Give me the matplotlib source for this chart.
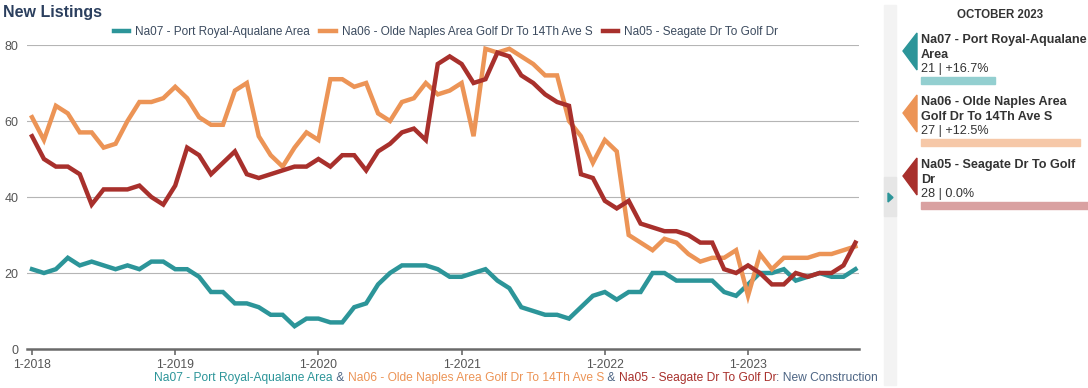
"""New Listings chart: three Naples sub-areas, monthly, with an October 2023 side panel."""

import matplotlib
matplotlib.use("Agg")
import matplotlib.pyplot as plt
from matplotlib.lines import Line2D
from matplotlib.patches import Polygon, Rectangle
import numpy as np

plt.rcParams["font.family"] = ["Liberation Sans", "DejaVu Sans"]

# monthly values, Jan 2018 .. Oct 2023
na07 = [21, 20, 21, 24, 22, 23, 22, 21, 22, 21, 23, 23,
        21, 21, 19, 15, 15, 12, 12, 11, 9, 9, 6, 8,
        8, 7, 7, 11, 12, 17, 20, 22, 22, 22, 21, 19,
        19, 20, 21, 18, 16, 11, 10, 9, 9, 8, 11, 14,
        15, 13, 15, 15, 20, 20, 18, 18, 18, 18, 15, 14,
        17, 20, 20, 21, 18, 19, 20, 19, 19, 21]
na06 = [61, 55, 64, 62, 57, 57, 53, 54, 60, 65, 65, 66,
        69, 66, 61, 59, 59, 68, 70, 56, 51, 48, 53, 57,
        55, 71, 71, 69, 70, 62, 60, 65, 66, 70, 67, 68,
        70, 56, 79, 78, 79, 77, 75, 72, 72, 60, 56, 49,
        55, 52, 30, 28, 26, 29, 28, 25, 23, 24, 24, 26,
        14, 25, 21, 24, 24, 24, 25, 25, 26, 27]
na05 = [56, 50, 48, 48, 46, 38, 42, 42, 42, 43, 40, 38,
        43, 53, 51, 46, 49, 52, 46, 45, 46, 47, 48, 48,
        50, 48, 51, 51, 47, 52, 54, 57, 58, 55, 75, 77,
        75, 70, 71, 78, 77, 72, 70, 67, 65, 64, 46, 45,
        39, 37, 39, 33, 32, 31, 31, 30, 28, 28, 21, 20,
        22, 20, 17, 17, 20, 19, 20, 20, 22, 28]

series_names = ["Na07 - Port Royal-Aqualane Area",
                "Na06 - Olde Naples Area Golf Dr To 14Th Ave S",
                "Na05 - Seagate Dr To Golf Dr"]
panel_names = [["Na07 - Port Royal-Aqualane", "Area"],
               ["Na06 - Olde Naples Area", "Golf Dr To 14Th Ave S"],
               ["Na05 - Seagate Dr To Golf", "Dr"]]
panel_values = [21, 27, 28]
panel_changes = ["+16.7%", "+12.5%", "0.0%"]
year_ticks = ["1-2018", "1-2019", "1-2020", "1-2021", "1-2022", "1-2023"]
y_ticks = [0, 20, 40, 60, 80]

colors = ["#2c9599", "#ec9456", "#a8302c"]
light = ["#93cfd0", "#f6c8a8", "#d9a1a1"]
slate = "#4d6584"

W, H = 1088, 388
fig = plt.figure(figsize=(W / 100, H / 100), dpi=100)


def fx(px):
    return px / W


def fy(py):
    return 1 - py / H


ax = fig.add_axes([fx(27), fy(349), fx(859) - fx(27), fy(45) - fy(349)])
x = np.arange(len(na07))
for vals, c, lab in zip([na07, na06, na05], colors, series_names):
    ax.plot(x, vals, color=c, lw=3.2, solid_joinstyle="miter", label=lab, zorder=3)

ax.set_ylim(0, 80)
ax.set_xlim(-0.42, len(x) - 0.7)
ax.set_yticks(y_ticks)
ax.set_xticks(np.arange(len(year_ticks)) * 12)
ax.set_xticklabels(year_ticks)
for yv in y_ticks[1:]:
    ax.axhline(yv, color="#b5b5b5", lw=0.8, zorder=1)
for s in ["top", "right", "left"]:
    ax.spines[s].set_visible(False)
ax.spines["bottom"].set_color("#6a6a6a")
ax.spines["bottom"].set_linewidth(1.8)
ax.tick_params(axis="y", length=0, pad=6, labelsize=9, labelcolor="#555555")
ax.tick_params(axis="x", length=4, width=1.2, color="#6a6a6a", pad=3,
               labelsize=8.7, labelcolor="#555555")

fig.text(fx(3), fy(13), "New Listings", fontsize=11.5, fontweight="bold",
         color="#2b3f5e", va="center", ha="left")

handles = [Line2D([], [], color=c, lw=3.2) for c in colors]
leg = fig.legend(handles, series_names, loc="center", ncol=3,
                 bbox_to_anchor=(fx(446), fy(32)), frameon=False,
                 fontsize=8.5, handlelength=1.3, handletextpad=0.5,
                 columnspacing=0.9)
for t in leg.get_texts():
    t.set_color("#3b4a5e")

# multi-coloured caption under the x axis, right aligned
pieces = [(series_names[0], colors[0]), (" & ", slate),
          (series_names[1], colors[1]), (" & ", slate),
          (series_names[2], colors[2]), (": New Construction", slate)]
renderer = fig.canvas.get_renderer()
widths = []
for txt, c in pieces:
    t = fig.text(0, 0, txt, fontsize=8.65)
    widths.append(t.get_window_extent(renderer).width)
    t.remove()
xpos = 878 - sum(widths)
for (txt, c), w in zip(pieces, widths):
    fig.text(fx(xpos), fy(378), txt, fontsize=8.65, color=c, va="center", ha="left")
    xpos += w

# side panel
fig.patches.append(Rectangle((fx(884), fy(385)), fx(12), fy(5) - fy(385),
                             transform=fig.transFigure, color="#f3f3f3", zorder=0))
fig.patches.append(Rectangle((fx(884), fy(216)), fx(12), fy(177) - fy(216),
                             transform=fig.transFigure, color="#e6e6e6", zorder=0))
fig.patches.append(Polygon([(fx(888), fy(193)), (fx(888), fy(202)), (fx(893), fy(197.5))],
                           closed=True, transform=fig.transFigure, color=colors[0]))

fig.text(fx(1000), fy(15), "OCTOBER 2023", fontsize=8.3, fontweight="bold",
         color="#333333", ha="center", va="center")

tops = [33, 95, 158]
for i, top in enumerate(tops):
    c = colors[i]
    fig.patches.append(Polygon([(fx(903), fy(top + 18)), (fx(917), fy(top)),
                                (fx(917), fy(top + 37))],
                               closed=True, transform=fig.transFigure, color=c))
    for j, line in enumerate(panel_names[i]):
        fig.text(fx(921), fy(top + 7 + 15 * j), line, fontsize=9.1, fontweight="bold",
                 color="#333333", ha="left", va="center")
    fig.text(fx(921), fy(top + 36), f"{panel_values[i]} | {panel_changes[i]}",
             fontsize=9.1, color="#333333", ha="left", va="center")
    bar_w = (panel_values[i] - 15.8) * 14.2
    fig.patches.append(Rectangle((fx(921), fy(top + 51)), fx(bar_w), fy(top + 44) - fy(top + 51),
                                 transform=fig.transFigure, color=light[i]))

fig.savefig("out.png", dpi=100)
